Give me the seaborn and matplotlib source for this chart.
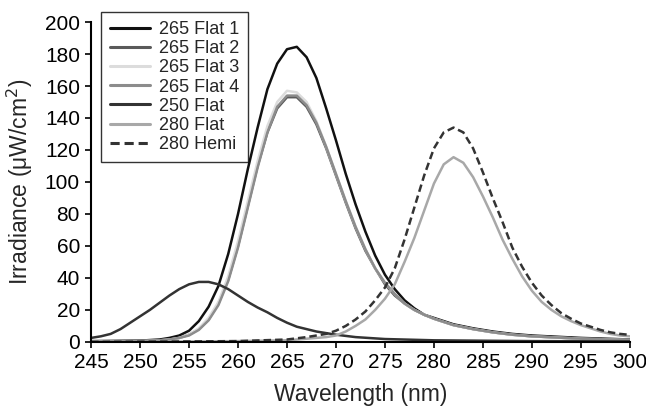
import matplotlib
matplotlib.use('Agg')
import matplotlib.pyplot as plt
import seaborn as sns

# Wavelength grids (nm)
wl_265 = [245, 250, 252, 253, 254, 255, 256, 257, 258, 259, 260, 261, 262, 263, 264, 265, 266,
          267, 268, 269, 270, 271, 272, 273, 274, 275, 276, 277, 278, 279, 280, 282, 284, 286,
          288, 290, 295, 300]
wl_250 = [245, 246, 247, 248, 249, 250, 251, 252, 253, 254, 255, 256, 257, 258, 259, 260, 261,
          262, 263, 264, 265, 266, 267, 268, 269, 270, 272, 275, 280, 290, 300]
wl_280 = [245, 255, 260, 265, 267, 268, 269, 270, 271, 272, 273, 274, 275, 276, 277, 278, 279,
          280, 281, 282, 283, 284, 285, 286, 287, 288, 289, 290, 291, 292, 293, 294, 295, 296,
          297, 298, 299, 300]

# Irradiance (uW/cm2)
flat1_265 = [0.5, 0.8, 1.5, 2.5, 4, 7, 13, 22, 35, 55, 80, 108, 134, 158, 174, 183, 184.5,
             178, 165, 146, 126, 105, 86, 69, 54, 42, 33, 26, 21, 17, 15, 11, 8.5, 6.5, 5, 4,
             2.5, 1.5]
flat2_265 = [0.3, 0.5, 1, 1.5, 2.5, 4.5, 8, 14, 24, 39, 60, 85, 110, 131, 146, 153, 153, 147,
             136, 121, 104, 87, 71, 57, 46, 36, 29, 24, 20, 17, 14.5, 10.5, 8, 6, 4.5, 3.5, 2,
             1.2]
flat3_265 = [0.3, 0.5, 1, 1.5, 2.5, 4.5, 8.5, 15, 25, 41, 63, 88, 113, 135, 150, 157, 156,
             150, 138, 122, 105, 88, 72, 58, 46, 37, 30, 24, 20, 17, 14.5, 10.5, 8, 6, 4.5,
             3.5, 2, 1.2]
flat4_265 = [0.3, 0.5, 1, 1.5, 2.5, 4, 7.5, 13.5, 23, 38, 59, 84, 109, 131, 147, 154, 154,
             148, 137, 122, 105, 88, 72, 58, 46, 37, 30, 24, 20, 17, 14.5, 10.5, 8, 6, 4.5,
             3.5, 2, 1.2]
flat_250 = [2.5, 3.5, 5, 8, 12, 16, 20, 24.5, 29, 33, 36, 37.5, 37.5, 36, 33, 29, 25, 21.5,
            18.5, 15, 12, 9.5, 8, 6.5, 5.5, 4.5, 3, 1.8, 1, 0.5, 0.3]
flat_280 = [0, 0.2, 0.5, 1, 2, 2.5, 3, 4, 6.5, 10, 14, 20, 27, 36, 50, 65, 82, 99, 111, 115.5,
            112, 103, 91, 78, 64, 52, 41, 32, 25, 20, 16, 13, 10.5, 8.5, 6.5, 5, 4, 3.5]
hemi_280 = [0, 0.3, 0.5, 1.5, 3, 4, 5, 7, 10, 14, 19, 26, 34, 46, 64, 84, 104, 121, 131, 134,
            131, 121, 106, 90, 75, 59, 47, 37, 29, 23, 18, 14.5, 11.5, 9.5, 7.5, 6, 5, 4.4]

x_ticks = [245, 250, 255, 260, 265, 270, 275, 280, 285, 290, 295, 300]
y_ticks = [0, 20, 40, 60, 80, 100, 120, 140, 160, 180, 200]

sns.set_style('ticks')
plt.rcParams['font.family'] = ['Liberation Sans', 'DejaVu Sans']
plt.rcParams['font.size'] = 12.5

fig = plt.figure(figsize=(6.46, 4.08), dpi=100)
ax = fig.add_axes([0.141, 0.162, 0.834, 0.784])

series = [
    ('265 Flat 1', wl_265, flat1_265, '#111111', '-'),
    ('265 Flat 2', wl_265, flat2_265, '#5a5a5a', '-'),
    ('265 Flat 3', wl_265, flat3_265, '#dcdcdc', '-'),
    ('265 Flat 4', wl_265, flat4_265, '#8c8c8c', '-'),
    ('250 Flat', wl_250, flat_250, '#333333', '-'),
    ('280 Flat', wl_280, flat_280, '#a8a8a8', '-'),
    ('280 Hemi', wl_280, hemi_280, '#333333', '--'),
]
for name, xs, ys, col, ls in series:
    sns.lineplot(x=xs, y=ys, ax=ax, color=col, linewidth=1.8, linestyle=ls, label=name)
for line in ax.lines:
    if line.get_linestyle() == '--':
        line.set_dashes((3, 1.6))

ax.set_xlim(245, 300)
ax.set_ylim(0, 200)
ax.set_xticks(x_ticks)
ax.set_yticks(y_ticks)
ax.set_xlabel('Wavelength (nm)', fontsize=16.5, labelpad=8)
ax.set_ylabel('Irradiance (μW/cm$^2$)', fontsize=16.5, labelpad=7)
ax.tick_params(direction='out', length=4, width=1.2, colors='black', labelsize=15, pad=4)
for side in ['left', 'bottom']:
    ax.spines[side].set_linewidth(1.5)
    ax.spines[side].set_color('black')
sns.despine(ax=ax)

leg = ax.legend(loc='upper left', bbox_to_anchor=(101 / 646, 1 - 12 / 408),
                bbox_transform=fig.transFigure, borderaxespad=0, frameon=True,
                fancybox=False, fontsize=13, labelspacing=0.12, handlelength=2.2,
                handletextpad=0.5, borderpad=0.5)
leg.get_frame().set_edgecolor('black')
leg.get_frame().set_linewidth(1.0)
for h in leg.get_lines():
    h.set_linewidth(2.2)

fig.savefig('out.png', dpi=100)
